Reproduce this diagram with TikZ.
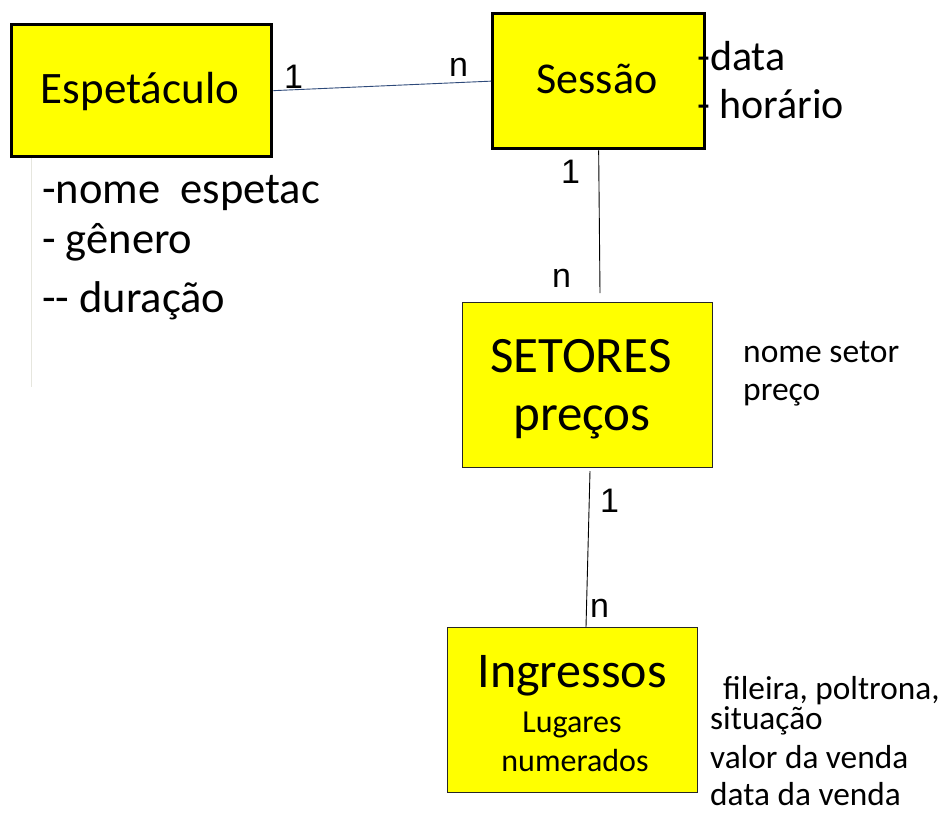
\documentclass[tikz,border=0pt]{standalone}
\usepackage{fontspec}
\setmainfont{Carlito}
\newfontfamily\cardfont{Liberation Sans}
\definecolor{boxyellow}{HTML}{FFFF00}
\definecolor{linkblue}{HTML}{2E4A7A}
\definecolor{faint}{HTML}{E6E6DE}
\newcommand{\fs}[1]{\fontsize{#1}{#1}\selectfont}
\begin{document}
\begin{tikzpicture}[x=1pt,y=-1pt,
  thickbox/.style={draw=black,line width=3.3pt,fill=boxyellow,inner sep=0pt,anchor=north west},
  thinbox/.style={draw=black!85,line width=1pt,fill=boxyellow,inner sep=0pt,anchor=north west},
  txt/.style={inner sep=0pt,anchor=base},
  ltxt/.style={inner sep=0pt,anchor=base west},
  card/.style={inner sep=0pt,anchor=base west,font=\cardfont\fs{34}},
  link/.style={line width=0.9pt,draw=black}]
\useasboundingbox (0,0) rectangle (945,814);
% faint line
\draw[faint,line width=1pt] (31,148) -- (31,387);
% boxes
\node[thickbox,minimum width=260pt,minimum height=132pt] (esp) at (10,23) {};
\node[thickbox,minimum width=212pt,minimum height=135pt] (ses) at (491,12) {};
\node[thinbox,minimum width=250pt,minimum height=165pt] (set) at (462,302) {};
\node[thinbox,minimum width=250pt,minimum height=165pt] (ing) at (447,627) {};
% texts in boxes
\node[txt] (tesp) at (140,103) {\fs{45}Espetáculo};
\node[txt] (tses) at (597,93) {\fs{44}Sessão};
\node[txt] (tset1) at (581,372) {\fs{51}SETORES};
\node[txt] (tset2) at (582,430) {\fs{51}preços};
\node[txt] (ting1) at (572,687) {\fs{50}Ingressos};
\node[txt] (ting2) at (572,732) {\fs{32}Lugares};
\node[txt] (ting3) at (575,771) {\fs{32}numerados};
% attributes
\node[ltxt] (a1) at (42,203) {\fs{44.5}-nome\ \ espetac};
\node[ltxt] (a2) at (42,253) {\fs{44.5}- gênero};
\node[ltxt] (a3) at (42,312) {\fs{44.5}{-}{-} duração};
\node[ltxt] (a4) at (697,70) {\fs{42}-data};
\node[ltxt] (a5) at (697,118) {\fs{42}- horário};
\node[ltxt] (a6) at (743,362) {\fs{33.5}nome setor};
\node[ltxt] (a7) at (743,400) {\fs{33.5}preço};
\node[ltxt] (a8) at (723,699) {\fs{33.3}fileira, poltrona,};
\node[ltxt] (a9) at (710,729) {\fs{33.3}situação};
\node[ltxt] (a10) at (710,768) {\fs{33.3}valor da venda};
\node[ltxt] (a11) at (710,805) {\fs{33.3}data da venda};
% cardinalities
\node[card] (c1) at (284,88) {1};
\node[card] (c2) at (449,76) {n};
\node[card] (c3) at (561,183) {1};
\node[card] (c4) at (552,287) {n};
\node[card] (c5) at (600,512) {1};
\node[card] (c6) at (590,617) {n};
% connectors
\coordinate (s2end) at (600,293);
\coordinate (s3start) at (590,471);
\draw[link,draw=linkblue] (esp.east) -- (ses.west);
\draw[link] (ses.south) -- (s2end);
\draw[link] (s3start) -- (586,627);
\end{tikzpicture}
\end{document}
